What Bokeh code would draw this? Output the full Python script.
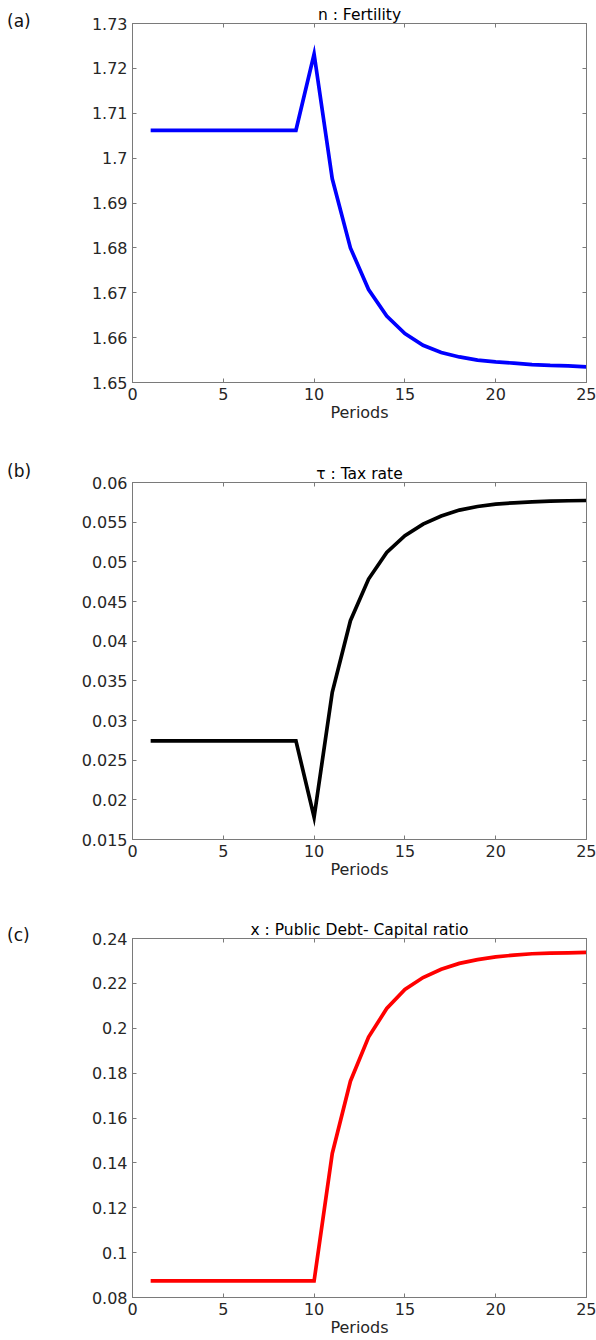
from bokeh.plotting import figure
from bokeh.layouts import column, row
from bokeh.models import LinearAxis, FixedTicker, CustomJSTickFormatter, Range1d, Div
from bokeh.embed import file_html
from bokeh.resources import INLINE

# ---------------- data ----------------
periods = [1, 2, 3, 4, 5, 6, 7, 8, 9, 10, 11, 12, 13, 14, 15, 16, 17, 18, 19, 20, 21, 22, 23, 24, 25]

fertility = [1.7062, 1.7062, 1.7062, 1.7062, 1.7062, 1.7062, 1.7062, 1.7062, 1.7062,
             1.7232, 1.6954, 1.6800, 1.6707, 1.6648, 1.6609, 1.6583, 1.6567, 1.6557,
             1.6550, 1.6546, 1.6543, 1.6540, 1.6538, 1.6537, 1.6535]

tax_rate = [0.02743, 0.02743, 0.02743, 0.02743, 0.02743, 0.02743, 0.02743, 0.02743, 0.02743,
            0.01781, 0.03355, 0.04258, 0.04783, 0.05118, 0.05329, 0.05476, 0.05577, 0.05652,
            0.05698, 0.05728, 0.05744, 0.05757, 0.05766, 0.05770, 0.05773]

debt_ratio = [0.0874, 0.0874, 0.0874, 0.0874, 0.0874, 0.0874, 0.0874, 0.0874, 0.0874, 0.0874,
              0.1442, 0.1764, 0.1961, 0.2088, 0.2173, 0.2226, 0.2263, 0.2289, 0.2306, 0.2318,
              0.2326, 0.2332, 0.2335, 0.2336, 0.2338]

x_ticks = [0, 5, 10, 15, 20, 25]
fert_ticks = [1.65, 1.66, 1.67, 1.68, 1.69, 1.70, 1.71, 1.72, 1.73]
tax_ticks = [0.015, 0.02, 0.025, 0.03, 0.035, 0.04, 0.045, 0.05, 0.055, 0.06]
debt_ticks = [0.08, 0.10, 0.12, 0.14, 0.16, 0.18, 0.20, 0.22, 0.24]

titles = ["n : Fertility", "τ : Tax rate", "x : Public Debt- Capital ratio"]
letters = ["(a)", "(b)", "(c)"]

FONT = "DejaVu Sans"
TXT = "#262626"
AX = "#7a7a7a"
DIV_W = 40

fmt = CustomJSTickFormatter(code="return Number(tick.toFixed(4)).toString();")


def style_axis(ax, ticks, show_labels=True):
    ax.ticker = FixedTicker(ticks=ticks)
    ax.axis_line_color = AX
    ax.major_tick_line_color = AX
    ax.major_tick_in = 4
    ax.major_tick_out = 0
    ax.minor_tick_line_color = None
    if show_labels:
        ax.formatter = fmt
        ax.major_label_text_font = FONT
        ax.major_label_text_font_size = "16px"
        ax.major_label_text_color = TXT
        ax.major_label_standoff = 5
    else:
        ax.major_label_text_font_size = "0px"
        ax.major_label_standoff = 0
        ax.major_label_text_alpha = 0


def make_panel(y, color, yticks, ylo, yhi, h, top, bottom, title, letter, letter_top):
    p = figure(width=596 - DIV_W, height=h, x_range=Range1d(0, 25), y_range=Range1d(ylo, yhi),
               output_backend="svg", toolbar_location=None,
               min_border_left=132 - DIV_W, min_border_right=10,
               min_border_top=top, min_border_bottom=bottom)
    p.xgrid.visible = False
    p.ygrid.visible = False
    p.outline_line_color = AX
    p.background_fill_color = "white"
    p.border_fill_color = "white"

    p.title.text = title
    p.title.align = "center"
    p.title.text_font = FONT
    p.title.text_font_size = "15.5px"
    p.title.text_font_style = "normal"
    p.title.text_color = "#000000"
    p.title.standoff = 0

    p.line(periods, y, line_color=color, line_width=3.7, line_join="miter")

    xb = p.below[0]
    yl = p.left[0]
    style_axis(xb, x_ticks)
    style_axis(yl, yticks)
    xb.axis_label = "Periods"
    xb.axis_label_text_font = FONT
    xb.axis_label_text_font_size = "16px"
    xb.axis_label_text_font_style = "normal"
    xb.axis_label_text_color = TXT
    xb.axis_label_standoff = 0

    xt = LinearAxis()
    style_axis(xt, x_ticks, show_labels=False)
    p.add_layout(xt, "above")
    yr = LinearAxis()
    style_axis(yr, yticks, show_labels=False)
    p.add_layout(yr, "right")

    d = Div(text=f'<div style="position:relative; top:{letter_top}px; left:7px; '
                 f'font-family:\'DejaVu Sans\'; font-size:17px; color:#111111; '
                 f'line-height:20px; white-space:nowrap;">{letter}</div>',
            width=DIV_W, height=h, margin=0)
    return row(d, p, spacing=0)


ra = make_panel(fertility, "#0000ff", fert_ticks, 1.65, 1.73, 459, 23, 77,
                titles[0], letters[0], 11)
rb = make_panel(tax_rate, "#000000", tax_ticks, 0.015, 0.06, 456, 23, 76,
                titles[1], letters[1], 2)
rc = make_panel(debt_ratio, "#ff0000", debt_ticks, 0.08, 0.24, 425, 23, 43,
                titles[2], letters[2], 10)

layout = column(ra, rb, rc, spacing=0)

with open("out.html", "w") as f:
    f.write(file_html(layout, INLINE))
